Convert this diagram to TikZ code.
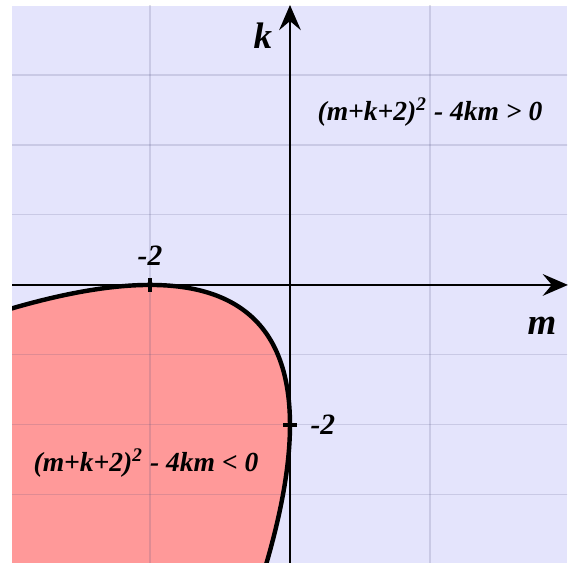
\documentclass[tikz,border=0pt]{standalone}
\usepackage{fontspec}
\setmainfont{Liberation Serif}
\usetikzlibrary{arrows.meta}
\definecolor{lavbg}{RGB}{228,228,252}
\definecolor{pinkreg}{RGB}{255,153,153}
\definecolor{gridc}{RGB}{70,70,120}
\begin{document}
\begin{tikzpicture}[x=1cm,y=1cm,line width=.35pt,font=\bfseries\itshape]
\useasboundingbox (-4.143,-3.971) rectangle (4.029,4.071);
\fill[lavbg] (-3.97,-3.971) rectangle (3.96,3.99);
\begin{scope}
\clip (-3.97,-3.971) rectangle (3.96,3.99);
\fill[pinkreg] plot[domain=-3.9:3.9,samples=120,variable=\t] ({(-1-\t*\t/4+\t)/2},{(-1-\t*\t/4-\t)/2})--(-4.5,-4.5)--cycle;
\foreach \x in {-2,2}{\draw[gridc,opacity=.17,line width=.45pt] (\x,-4)--(\x,4);}
\foreach \y in {-3,-2,-1,1,2,3}{\draw[gridc,opacity=.17,line width=.45pt] (-4,\y)--(4,\y);}
\draw[line width=1.8pt] plot[domain=-3.9:3.9,samples=120,variable=\t] ({(-1-\t*\t/4+\t)/2},{(-1-\t*\t/4-\t)/2});
\end{scope}
\coordinate (mstart) at (-3.97,0);
\coordinate (mend) at (3.971,0);
\coordinate (kstart) at (0,-3.971);
\coordinate (kend) at (0,4.0);
\draw[line width=1pt,-{Stealth[length=3.6mm,width=3.1mm,inset=1.3mm]}] (mstart)--(mend);
\draw[line width=1pt,-{Stealth[length=3.6mm,width=3.1mm,inset=1.3mm]}] (kstart)--(kend);
\draw[line width=1.3pt] (-2,-.1)--(-2,.1) (-.1,-2)--(.1,-2);
\node[inner sep=0pt,font=\fontsize{15}{18}\bfseries\itshape] (klab) at (-.386,3.557) {k};
\node[inner sep=0pt,font=\fontsize{15}{18}\bfseries\itshape] (mlab) at (3.6,-.586) {m};
\node[inner sep=0pt,font=\fontsize{12}{14}\bfseries\itshape] (mtick) at (-2,.414) {-2};
\node[inner sep=0pt,font=\fontsize{12}{14}\bfseries\itshape] (ktick) at (.471,-2) {-2};
\node[inner sep=0pt,font=\fontsize{11.2}{13}\bfseries\itshape] (pos) at (2.0,2.471) {(m+k+2)\textsuperscript{2} - 4km > 0};
\node[inner sep=0pt,font=\fontsize{11.2}{13}\bfseries\itshape] (neg) at (-2.057,-2.543) {(m+k+2)\textsuperscript{2} - 4km < 0};
\end{tikzpicture}
\end{document}
